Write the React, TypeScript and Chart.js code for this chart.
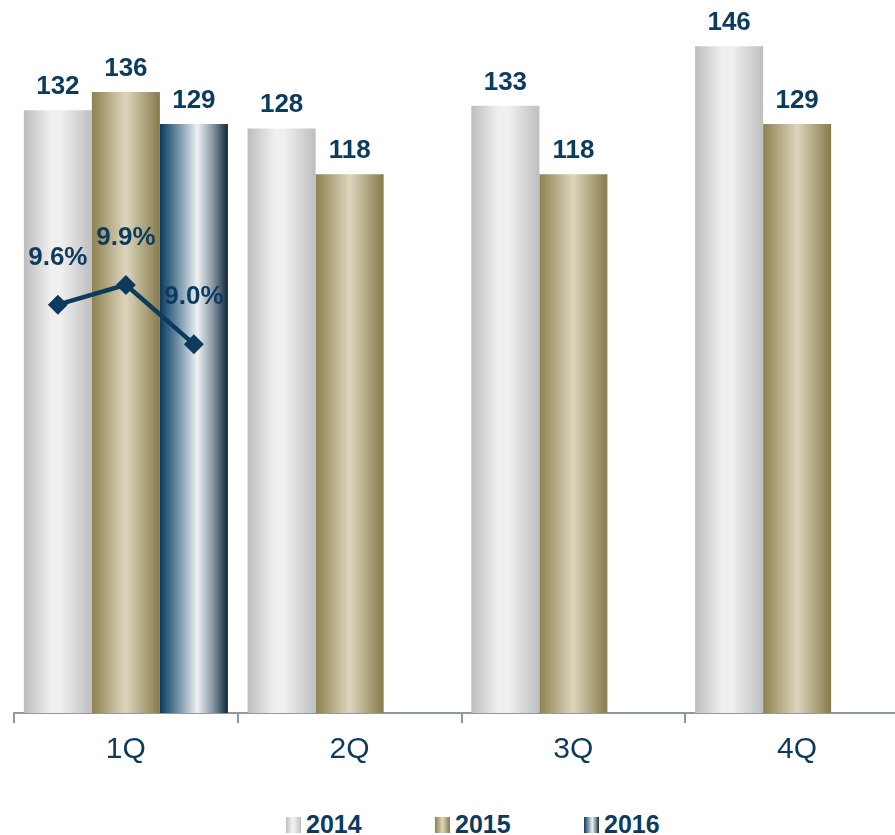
import React, { useEffect, useRef } from "react";
import { Chart, registerables } from "chart.js";

Chart.register(...registerables);

const quarters = ["1Q", "2Q", "3Q", "4Q"];
const years = ["2014", "2015", "2016"];
const values2014 = [132, 128, 133, 146];
const values2015 = [136, 118, 118, 129];
const values2016: (number | null)[] = [129, null, null, null];
const rate1Q = [9.6, 9.9, 9.0];

const NAVY = "#0d3b5e";
const FONT = "'Liberation Sans', Arial, sans-serif";
const CAT_PCT = 0.912;

const gradientStops: [number, string][][] = [
  [
    [0, "#bdbdbd"],
    [0.4, "#f0f0f0"],
    [0.55, "#efefef"],
    [1, "#bebebe"],
  ],
  [
    [0, "#8d8150"],
    [0.5, "#ddd6bd"],
    [1, "#867a4b"],
  ],
  [
    [0, "#083a5e"],
    [0.25, "#6a8ba1"],
    [0.55, "#eef1f3"],
    [0.78, "#8696a3"],
    [1, "#0e2537"],
  ],
];

function cssGradient(i: number) {
  return (
    "linear-gradient(to right, " +
    gradientStops[i].map(([p, c]) => `${c} ${p * 100}%`).join(", ") +
    ")"
  );
}

function barFill(ctx: any) {
  const k = ctx.datasetIndex; // bar datasets are 0..2
  const stops = gradientStops[k] || gradientStops[0];
  const chart = ctx.chart;
  const xs = chart.scales && chart.scales.x;
  if (!xs || ctx.dataIndex === undefined || !chart.chartArea) return stops[1][1];
  const n = years.length;
  const catW = xs.width / quarters.length;
  const barW = (catW * CAT_PCT) / n;
  const center = xs.getPixelForValue(ctx.dataIndex) + (k - (n - 1) / 2) * barW;
  const g = chart.ctx.createLinearGradient(center - barW / 2, 0, center + barW / 2, 0);
  stops.forEach(([p, c]) => g.addColorStop(p, c));
  return g;
}

const labelPlugin = {
  id: "valueLabels",
  afterDatasetsDraw(chart: any) {
    const c = chart.ctx;
    c.save();
    c.fillStyle = NAVY;
    c.font = `bold 26px ${FONT}`;
    c.textAlign = "center";
    c.textBaseline = "alphabetic";
    chart.data.datasets.forEach((ds: any, di: number) => {
      const meta = chart.getDatasetMeta(di);
      meta.data.forEach((el: any, i: number) => {
        const raw = ds.data[i];
        if (raw === null || raw === undefined) return;
        if (ds.type === "line") {
          c.fillText(raw.y.toFixed(1) + "%", el.x, el.y - 40);
        } else {
          c.fillText(String(raw), el.x, el.y - 16);
        }
      });
    });
    c.restore();
  },
};

export default function App() {
  const ref = useRef<HTMLCanvasElement | null>(null);

  useEffect(() => {
    if (!ref.current) return;
    const n = years.length;
    // the 1Q rate points sit on the centres of the three 1Q bars (category index 0)
    const linePoints = rate1Q.map((v, k) => ({
      x: 0 + (k - (n - 1) / 2) * (CAT_PCT / n),
      y: v,
    }));
    const chart = new Chart(ref.current, {
      type: "bar",
      data: {
        labels: quarters,
        datasets: [
          {
            label: years[0],
            data: values2014,
            backgroundColor: barFill,
            yAxisID: "y",
            order: 1,
          },
          {
            label: years[1],
            data: values2015,
            backgroundColor: barFill,
            yAxisID: "y",
            order: 1,
          },
          {
            label: years[2],
            data: values2016,
            backgroundColor: barFill,
            yAxisID: "y",
            order: 1,
          },
          {
            type: "line",
            label: "rate",
            data: linePoints as any,
            parsing: false,
            yAxisID: "y2",
            borderColor: NAVY,
            borderWidth: 4.5,
            pointStyle: "rectRot",
            pointRadius: 10,
            pointBackgroundColor: NAVY,
            pointBorderColor: NAVY,
            pointBorderWidth: 0,
            order: 0,
          } as any,
        ],
      },
      options: {
        responsive: false,
        animation: false,
        layout: { padding: { left: 14, right: 21, top: 28, bottom: 0 } },
        datasets: {
          bar: { categoryPercentage: CAT_PCT, barPercentage: 1, borderWidth: 0 },
        },
        plugins: {
          legend: { display: false },
          tooltip: { enabled: false },
        },
        scales: {
          x: {
            type: "category",
            offset: true,
            grid: {
              offset: true,
              drawOnChartArea: false,
              drawTicks: true,
              tickLength: 10,
              color: "#8e9aa3",
              lineWidth: 2,
            },
            border: { display: true, color: "#8e9aa3", width: 2 },
            ticks: {
              color: NAVY,
              font: { family: FONT, size: 30 },
              padding: 9,
            },
          },
          y: { display: false, min: 0, max: 150 },
          y2: { display: false, min: 3.4, max: 13.8 },
        },
      },
      plugins: [labelPlugin],
    });
    return () => chart.destroy();
  }, []);

  const legendLeft = [286, 435, 584];

  return (
    <div
      style={{
        position: "absolute",
        left: 0,
        top: 0,
        width: 895,
        height: 835,
        overflow: "hidden",
        background: "#fff",
      }}
    >
      <canvas ref={ref} width={930} height={777} style={{ display: "block" }} />
      {years.map((y, i) => (
        <div
          key={y}
          style={{
            position: "absolute",
            left: legendLeft[i],
            top: 812,
            display: "flex",
            alignItems: "flex-start",
            fontFamily: FONT,
            fontWeight: "bold",
            fontSize: 25,
            lineHeight: "25px",
            color: NAVY,
            whiteSpace: "nowrap",
          }}
        >
          <span
            style={{
              display: "inline-block",
              width: 15,
              height: 16,
              marginTop: 5,
              marginRight: 5,
              background: cssGradient(i),
            }}
          />
          <span>{y}</span>
        </div>
      ))}
    </div>
  );
}
